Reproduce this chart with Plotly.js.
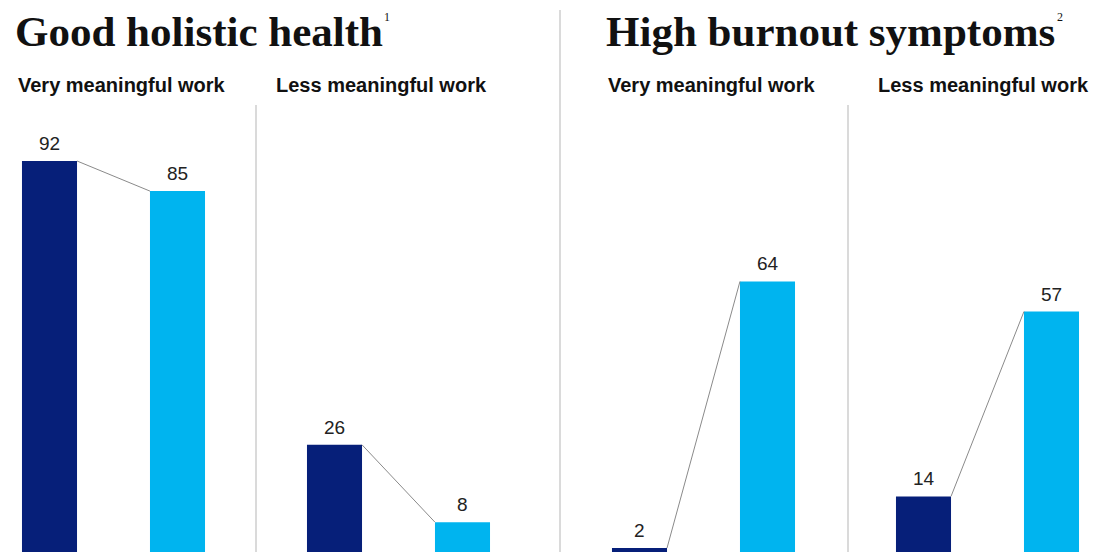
<!DOCTYPE html>
<html>
<head>
<meta charset="utf-8">
<script src="https://cdn.plot.ly/plotly-3.0.1.min.js"></script>
<style>html,body{margin:0;padding:0;background:#fff;}#chart{width:1098px;height:552px;}</style>
</head>
<body>
<div id="chart"></div>
<script>
// ---- data ----
const chartTitles = ["Good holistic health", "High burnout symptoms"];
const footnotes = ["1", "2"];
const panelLabels = ["Very meaningful work", "Less meaningful work", "Very meaningful work", "Less meaningful work"];
const darkValues = [92, 26, 2, 14];
const lightValues = [85, 8, 64, 57];

// ---- style / layout ----
const W = 1098, H = 552;
const DARK = "#061f79", LIGHT = "#00b4ef", CONNECT = "#8a8a8a", SEP = "#b5b5b5";
const barW = 0.43;
const step = 128; // px per category
const panelBounds = [[0, 256], [256, 560], [560, 848], [848, 1098]]; // px
const firstBarCenter = [49.5, 334.5, 639.5, 923.5]; // px
const labelLeft = [16, 274, 606, 876]; // px
const titleLeft = [13, 604];
const footLeft = [382, 1055];
const yRange = [1.07, 129.44];

const px = v => v / W;
const py = v => 1 - v / H;

const traces = [];
const layout = {
  width: W, height: H,
  margin: {l: 0, r: 0, t: 0, b: 0},
  paper_bgcolor: "#fff", plot_bgcolor: "#fff",
  showlegend: false,
  yaxis: {range: yRange, visible: false, fixedrange: true},
  annotations: [], shapes: []
};

panelLabels.forEach((lab, i) => {
  const ax = i === 0 ? "x" : "x" + (i + 1);
  const axKey = i === 0 ? "xaxis" : "xaxis" + (i + 1);
  const [d0, d1] = panelBounds[i];
  const r0 = -(firstBarCenter[i] - d0) / step;
  const r1 = r0 + (d1 - d0) / step;
  layout[axKey] = {domain: [px(d0), px(d1)], range: [r0, r1], visible: false, fixedrange: true};
  const vals = [darkValues[i], lightValues[i]];
  traces.push({
    type: "bar", x: [0, 1], y: vals, xaxis: ax, yaxis: "y",
    width: barW, marker: {color: [DARK, LIGHT], line: {width: 0}},
    hoverinfo: "none"
  });
  traces.push({
    type: "scatter", mode: "lines", x: [barW / 2, 1 - barW / 2], y: vals, xaxis: ax, yaxis: "y",
    line: {color: CONNECT, width: 1}, hoverinfo: "none", cliponaxis: false
  });
  vals.forEach((v, k) => {
    layout.annotations.push({
      xref: ax, yref: "y", x: k, y: v, text: String(v), showarrow: false,
      xanchor: "center", yanchor: "bottom", yshift: 5,
      font: {family: "Liberation Sans, Arial, sans-serif", size: 19, color: "#222"}
    });
  });
  layout.annotations.push({
    xref: "paper", yref: "paper", x: px(labelLeft[i]), y: py(85),
    xanchor: "left", yanchor: "middle", showarrow: false, text: lab,
    font: {family: "Liberation Sans, Arial, sans-serif", size: 20, color: "#111", weight: 700}
  });
});

chartTitles.forEach((t, j) => {
  layout.annotations.push({
    xref: "paper", yref: "paper", x: px(titleLeft[j]), y: py(31),
    xanchor: "left", yanchor: "middle", showarrow: false, text: t,
    font: {family: "Liberation Serif, Times New Roman, serif", size: 43, color: "#111", weight: 700}
  });
  layout.annotations.push({
    xref: "paper", yref: "paper", x: px(footLeft[j]), y: py(17),
    xanchor: "left", yanchor: "middle", showarrow: false, text: footnotes[j],
    font: {family: "Liberation Serif, Times New Roman, serif", size: 12, color: "#111"}
  });
});

// separators
[[256, 105], [560, 10], [848, 105]].forEach(([x, y0]) => {
  layout.shapes.push({
    type: "line", xref: "paper", yref: "paper", x0: px(x), x1: px(x), y0: py(y0), y1: 0,
    line: {color: SEP, width: 1}
  });
});

Plotly.newPlot("chart", traces, layout, {displayModeBar: false, staticPlot: true});
</script>
</body>
</html>
